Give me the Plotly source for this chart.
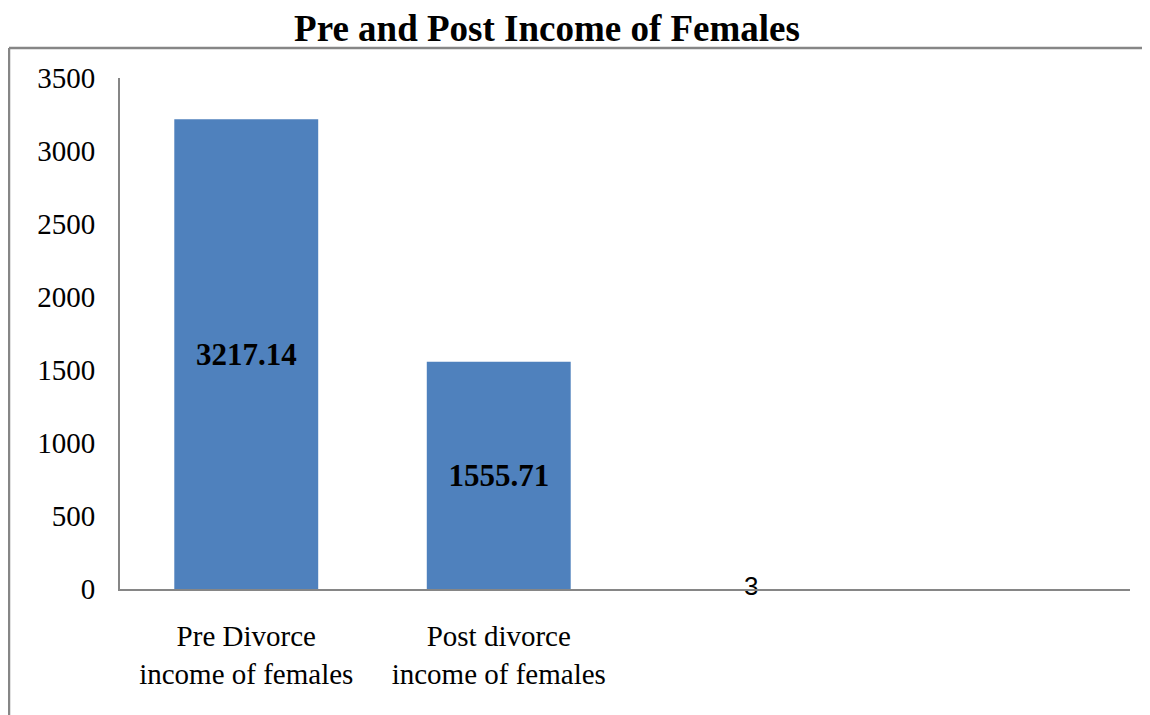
import plotly.graph_objects as go

categories = ["Pre Divorce<br>income of females", "Post divorce<br>income of females", " ", "  "]
income = [3217.14, 1555.71, None, None]
income_labels = ["3217.14", "1555.71", "", ""]
stray_cat = [" "]
stray_value = [3]
stray_label = ["3"]
y_ticks = [0, 500, 1000, 1500, 2000, 2500, 3000, 3500]

serif = "Liberation Serif"

# page body has an 8px margin, so the figure is drawn 8px smaller and offset
W, H = 1142, 707
left, top, bottom = 112, 70, 581  # plot area in figure pixels

fig = go.Figure()
fig.add_trace(go.Bar(
    x=categories,
    y=income,
    text=income_labels,
    textposition="inside",
    insidetextanchor="middle",
    textangle=0,
    textfont=dict(family=serif, size=31, color="black", weight="bold"),
    marker=dict(color="#4F81BD", line=dict(width=0)),
    width=0.57,
    showlegend=False,
))
# the lone "3" label sitting on the axis
fig.add_trace(go.Scatter(
    x=stray_cat,
    y=stray_value,
    mode="text",
    text=stray_label,
    textposition="middle center",
    textfont=dict(family="Liberation Sans", size=26, color="black"),
    cliponaxis=False,
    showlegend=False,
))

fig.update_layout(
    width=W,
    height=H,
    margin=dict(l=left, r=20, t=top, b=H - bottom, autoexpand=False),
    paper_bgcolor="white",
    plot_bgcolor="white",
    font=dict(family=serif, color="black"),
    title=dict(
        text="<b>Pre and Post Income of Females</b>",
        x=539 / W, xanchor="center", xref="container",
        y=1 - 20 / H, yanchor="middle", yref="container",
        font=dict(family=serif, size=37, color="black"),
    ),
    xaxis=dict(
        categoryorder="array", categoryarray=categories,
        showline=True, linecolor="#868686", linewidth=2,
        ticks="", showgrid=False, zeroline=False,
        tickfont=dict(family=serif, size=29),
        ticklabelstandoff=20,
    ),
    yaxis=dict(
        range=[0, 3500], tickvals=y_ticks,
        showline=True, linecolor="#868686", linewidth=2,
        ticks="", showgrid=False, zeroline=False,
        tickfont=dict(family=serif, size=29),
        ticklabelstandoff=17,
    ),
    shapes=[
        dict(type="line", xref="paper", yref="paper",
             x0=(1 - left) / 1010, x1=1.05, y0=(bottom - 40) / 511, y1=(bottom - 40) / 511,
             line=dict(color="#868686", width=2.5)),
        dict(type="line", xref="paper", yref="paper",
             x0=(1 - left) / 1010, x1=(1 - left) / 1010, y0=(bottom - 40) / 511, y1=-0.3,
             line=dict(color="#868686", width=2.5)),
    ],
)

fig.write_html("out.html")
